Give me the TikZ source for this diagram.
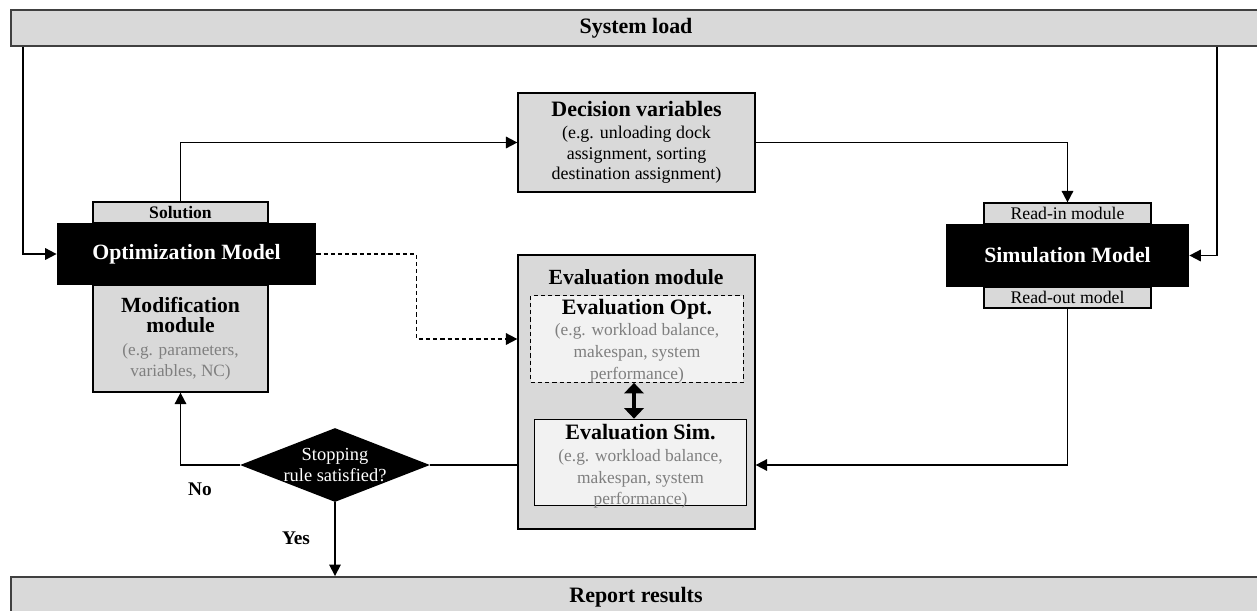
\documentclass[tikz,border=0pt]{standalone}
\usepackage{fontspec}
\setmainfont{Liberation Serif}
\usetikzlibrary{arrows.meta,shapes.geometric}

\definecolor{boxgray}{HTML}{D9D9D9}
\definecolor{evalfill}{HTML}{F2F2F2}
\definecolor{notegray}{HTML}{7F7F7F}
\newcommand{\fsz}[2]{\fontsize{#1}{#2}\selectfont}
\newcommand{\boxtitle}[1]{{\fsz{12.5}{14}\bfseries\color{black}#1}}
\newcommand{\modtitle}[1]{{\fsz{12.3}{13}\bfseries\color{black}#1}}

\begin{document}
\begin{tikzpicture}[
    bar/.style={draw=black!75,line width=1.1pt,fill=boxgray,minimum width=25cm,inner sep=0pt,font=\fsz{12.5}{14}\bfseries},
    graybox/.style={draw,line width=0.7pt,fill=boxgray,inner sep=0pt,align=center},
    blackbox/.style={fill=black,text=white,inner sep=0pt,font=\fsz{12.4}{14}\bfseries},
    evalbox/.style={draw,line width=0.7pt,fill=evalfill,minimum width=4.25cm,minimum height=1.73cm},
    note/.style={align=center,inner sep=0pt,font=\fsz{9.9}{12.3},text=notegray},
    flow/.style={line width=1pt,-{Triangle[width=6.5pt,length=6.5pt]}},
    dashflow/.style={flow,dash pattern=on 2.4pt off 1.7pt},
    answer/.style={font=\fsz{11}{12}\bfseries},
]
    \useasboundingbox (0,0) rectangle (25.14,-12.2);

    % system load and results
    \node[bar,minimum height=0.72cm] (sysload) at (12.72,-0.56) {System load};
    \node[bar,minimum height=0.8cm]  (report)  at (12.72,-11.94) {Report results};

    % optimization side
    \node[graybox,minimum width=3.5cm,minimum height=0.42cm,font=\fsz{10}{11}\bfseries] (solution) at (3.61,-4.25) {Solution};
    \node[graybox,minimum width=3.5cm,minimum height=2.14cm,font=\fsz{9.8}{11.9},text=notegray] (modmodule) at (3.61,-6.77)
        {\modtitle{Modification}\\\modtitle{module}\\[1pt](e.g. parameters,\\variables, NC)};
    \node[blackbox,minimum width=5.18cm,minimum height=1.24cm] (optmodel) at (3.73,-5.08) {Optimization Model};

    \node[graybox,minimum width=4.74cm,minimum height=1.98cm,font=\fsz{10.2}{11.6}] (decvar) at (12.73,-2.85)
        {\boxtitle{Decision variables}\\[1pt](e.g. unloading dock\\assignment, sorting\\destination assignment)};

    % simulation side
    \node[graybox,minimum width=3.34cm,minimum height=0.42cm,font=\fsz{10.1}{11}] (readin)  at (21.35,-4.27) {Read-in module};
    \node[graybox,minimum width=3.34cm,minimum height=0.42cm,font=\fsz{10.1}{11}] (readout) at (21.35,-5.95) {Read-out model};
    \node[blackbox,minimum width=4.86cm,minimum height=1.26cm] (simmodel) at (21.35,-5.11) {Simulation Model};

    % evaluation
    \node[graybox,minimum width=4.74cm,minimum height=5.48cm] (evalmodule) at (12.73,-7.84) {};
    \node[font=\fsz{12.3}{14}\bfseries,inner sep=0pt] (evaltitle) at (12.72,-5.54) {Evaluation module};
    \node[evalbox,dash pattern=on 2.4pt off 1.7pt] (evalopt) at (12.74,-6.78) {};
    \node[evalbox] (evalsim) at (12.81,-9.25) {};
    \node[note] (evalopttext) at (12.74,-6.82)
        {\boxtitle{Evaluation Opt.}\\(e.g. workload balance,\\makespan, system\\performance)};
    \node[note] (evalsimtext) at (12.81,-9.33)
        {\boxtitle{Evaluation Sim.}\\(e.g. workload balance,\\makespan, system\\performance)};
    \draw[{Triangle[width=11pt,length=6pt]}-{Triangle[width=11pt,length=6pt]},line width=2.8pt]
        ([xshift=-0.06cm]evalopt.south) -- ([xshift=-0.06cm]evalopt.south |- evalsim.north);

    % stopping rule
    \node[diamond,fill=black,minimum width=3.8cm,minimum height=1.48cm,inner sep=0pt] (stoprule) at (6.7,-9.3) {};
    \node[font=\fsz{10.5}{12.3},text=white,align=center,inner sep=0pt] (stoptext) at (stoprule) {Stopping\\rule satisfied?};
    \node[answer] (no)  at (4.0,-9.78) {No};
    \node[answer] (yes) at (5.92,-10.77) {Yes};

    % connectors
    \coordinate (loadin) at (24.34,0);
    \draw[flow] ([xshift=0.26cm]sysload.south west) |- (optmodel.west);
    \draw[flow] (sysload.south -| loadin) |- (simmodel.east);
    \draw[flow] (solution.north) |- (decvar.west);
    \draw[flow] (decvar.east) -| (readin.north);
    \draw[flow] (readout.south) |- (evalmodule.east |- stoprule);
    \draw[line width=1pt] (stoprule.east) -- (evalmodule.west |- stoprule);
    \draw[flow] (stoprule.west) -| (modmodule.south);
    \draw[flow] (stoprule.south) -- (report.north -| stoprule);
    \draw[dashflow] (optmodel.east) -| ([xshift=-2.02cm]evalmodule.west |- evalopt) -- (evalmodule.west |- evalopt);
\end{tikzpicture}
\end{document}
